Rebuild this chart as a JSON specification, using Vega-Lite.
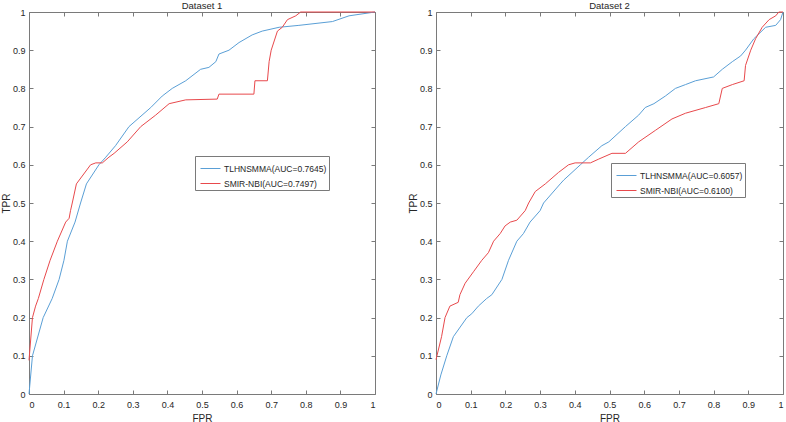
{
  "$schema": "https://vega.github.io/schema/vega-lite/v6.json",
  "background": "white",
  "padding": {"left": 0, "top": 0, "right": 0, "bottom": 0},
  "config": {
    "font": "Liberation Sans",
    "view": {"stroke": "#7a7a7a", "strokeWidth": 1},
    "axis": {
      "grid": false,
      "domain": false,
      "tickColor": "#7a7a7a",
      "tickSize": -4,
      "labelFontSize": 9,
      "labelColor": "#262626",
      "titleFontSize": 10,
      "titleFontWeight": "normal",
      "titleColor": "#262626",
      "labelPadding": 8
    },
    "legend": {"titlePadding": 0},
    "title": {"fontSize": 9.5, "fontWeight": "normal", "color": "#262626", "offset": -2}
  },
  "datasets": {
    "d1": [
      {"method": "TLHNSMMA(AUC=0.7645)", "i": 0, "fpr": 0, "tpr": 0},
      {"method": "TLHNSMMA(AUC=0.7645)", "i": 1, "fpr": 0.01, "tpr": 0.1},
      {"method": "TLHNSMMA(AUC=0.7645)", "i": 2, "fpr": 0.041, "tpr": 0.2},
      {"method": "TLHNSMMA(AUC=0.7645)", "i": 3, "fpr": 0.067, "tpr": 0.25},
      {"method": "TLHNSMMA(AUC=0.7645)", "i": 4, "fpr": 0.087, "tpr": 0.3},
      {"method": "TLHNSMMA(AUC=0.7645)", "i": 5, "fpr": 0.101, "tpr": 0.35},
      {"method": "TLHNSMMA(AUC=0.7645)", "i": 6, "fpr": 0.111, "tpr": 0.4},
      {"method": "TLHNSMMA(AUC=0.7645)", "i": 7, "fpr": 0.133, "tpr": 0.45},
      {"method": "TLHNSMMA(AUC=0.7645)", "i": 8, "fpr": 0.149, "tpr": 0.5},
      {"method": "TLHNSMMA(AUC=0.7645)", "i": 9, "fpr": 0.166, "tpr": 0.55},
      {"method": "TLHNSMMA(AUC=0.7645)", "i": 10, "fpr": 0.202, "tpr": 0.6},
      {"method": "TLHNSMMA(AUC=0.7645)", "i": 11, "fpr": 0.222, "tpr": 0.62},
      {"method": "TLHNSMMA(AUC=0.7645)", "i": 12, "fpr": 0.25, "tpr": 0.65},
      {"method": "TLHNSMMA(AUC=0.7645)", "i": 13, "fpr": 0.289, "tpr": 0.7},
      {"method": "TLHNSMMA(AUC=0.7645)", "i": 14, "fpr": 0.352, "tpr": 0.75},
      {"method": "TLHNSMMA(AUC=0.7645)", "i": 15, "fpr": 0.385, "tpr": 0.78},
      {"method": "TLHNSMMA(AUC=0.7645)", "i": 16, "fpr": 0.414, "tpr": 0.8},
      {"method": "TLHNSMMA(AUC=0.7645)", "i": 17, "fpr": 0.453, "tpr": 0.82},
      {"method": "TLHNSMMA(AUC=0.7645)", "i": 18, "fpr": 0.496, "tpr": 0.85},
      {"method": "TLHNSMMA(AUC=0.7645)", "i": 19, "fpr": 0.52, "tpr": 0.855},
      {"method": "TLHNSMMA(AUC=0.7645)", "i": 20, "fpr": 0.54, "tpr": 0.87},
      {"method": "TLHNSMMA(AUC=0.7645)", "i": 21, "fpr": 0.549, "tpr": 0.89},
      {"method": "TLHNSMMA(AUC=0.7645)", "i": 22, "fpr": 0.578, "tpr": 0.9},
      {"method": "TLHNSMMA(AUC=0.7645)", "i": 23, "fpr": 0.607, "tpr": 0.92},
      {"method": "TLHNSMMA(AUC=0.7645)", "i": 24, "fpr": 0.645, "tpr": 0.94},
      {"method": "TLHNSMMA(AUC=0.7645)", "i": 25, "fpr": 0.674, "tpr": 0.95},
      {"method": "TLHNSMMA(AUC=0.7645)", "i": 26, "fpr": 0.723, "tpr": 0.96},
      {"method": "TLHNSMMA(AUC=0.7645)", "i": 27, "fpr": 0.78, "tpr": 0.965},
      {"method": "TLHNSMMA(AUC=0.7645)", "i": 28, "fpr": 0.877, "tpr": 0.975},
      {"method": "TLHNSMMA(AUC=0.7645)", "i": 29, "fpr": 0.925, "tpr": 0.99},
      {"method": "TLHNSMMA(AUC=0.7645)", "i": 30, "fpr": 1, "tpr": 1},
      {"method": "SMIR-NBI(AUC=0.7497)", "i": 1, "fpr": 0, "tpr": 0.088},
      {"method": "SMIR-NBI(AUC=0.7497)", "i": 2, "fpr": 0.01, "tpr": 0.2},
      {"method": "SMIR-NBI(AUC=0.7497)", "i": 3, "fpr": 0.019, "tpr": 0.23},
      {"method": "SMIR-NBI(AUC=0.7497)", "i": 4, "fpr": 0.027, "tpr": 0.25},
      {"method": "SMIR-NBI(AUC=0.7497)", "i": 5, "fpr": 0.043, "tpr": 0.3},
      {"method": "SMIR-NBI(AUC=0.7497)", "i": 6, "fpr": 0.061, "tpr": 0.35},
      {"method": "SMIR-NBI(AUC=0.7497)", "i": 7, "fpr": 0.082, "tpr": 0.4},
      {"method": "SMIR-NBI(AUC=0.7497)", "i": 8, "fpr": 0.106, "tpr": 0.45},
      {"method": "SMIR-NBI(AUC=0.7497)", "i": 9, "fpr": 0.116, "tpr": 0.46},
      {"method": "SMIR-NBI(AUC=0.7497)", "i": 10, "fpr": 0.12, "tpr": 0.48},
      {"method": "SMIR-NBI(AUC=0.7497)", "i": 11, "fpr": 0.125, "tpr": 0.5},
      {"method": "SMIR-NBI(AUC=0.7497)", "i": 12, "fpr": 0.137, "tpr": 0.55},
      {"method": "SMIR-NBI(AUC=0.7497)", "i": 13, "fpr": 0.178, "tpr": 0.6},
      {"method": "SMIR-NBI(AUC=0.7497)", "i": 14, "fpr": 0.193, "tpr": 0.605},
      {"method": "SMIR-NBI(AUC=0.7497)", "i": 15, "fpr": 0.212, "tpr": 0.605},
      {"method": "SMIR-NBI(AUC=0.7497)", "i": 16, "fpr": 0.231, "tpr": 0.62},
      {"method": "SMIR-NBI(AUC=0.7497)", "i": 17, "fpr": 0.246, "tpr": 0.63},
      {"method": "SMIR-NBI(AUC=0.7497)", "i": 18, "fpr": 0.284, "tpr": 0.66},
      {"method": "SMIR-NBI(AUC=0.7497)", "i": 19, "fpr": 0.323, "tpr": 0.7},
      {"method": "SMIR-NBI(AUC=0.7497)", "i": 20, "fpr": 0.366, "tpr": 0.73},
      {"method": "SMIR-NBI(AUC=0.7497)", "i": 21, "fpr": 0.405, "tpr": 0.76},
      {"method": "SMIR-NBI(AUC=0.7497)", "i": 22, "fpr": 0.453, "tpr": 0.77},
      {"method": "SMIR-NBI(AUC=0.7497)", "i": 23, "fpr": 0.544, "tpr": 0.772},
      {"method": "SMIR-NBI(AUC=0.7497)", "i": 24, "fpr": 0.549, "tpr": 0.785},
      {"method": "SMIR-NBI(AUC=0.7497)", "i": 25, "fpr": 0.65, "tpr": 0.785},
      {"method": "SMIR-NBI(AUC=0.7497)", "i": 26, "fpr": 0.653, "tpr": 0.82},
      {"method": "SMIR-NBI(AUC=0.7497)", "i": 27, "fpr": 0.689, "tpr": 0.82},
      {"method": "SMIR-NBI(AUC=0.7497)", "i": 28, "fpr": 0.694, "tpr": 0.87},
      {"method": "SMIR-NBI(AUC=0.7497)", "i": 29, "fpr": 0.7, "tpr": 0.9},
      {"method": "SMIR-NBI(AUC=0.7497)", "i": 30, "fpr": 0.718, "tpr": 0.95},
      {"method": "SMIR-NBI(AUC=0.7497)", "i": 31, "fpr": 0.732, "tpr": 0.96},
      {"method": "SMIR-NBI(AUC=0.7497)", "i": 32, "fpr": 0.747, "tpr": 0.98},
      {"method": "SMIR-NBI(AUC=0.7497)", "i": 33, "fpr": 0.771, "tpr": 0.99},
      {"method": "SMIR-NBI(AUC=0.7497)", "i": 34, "fpr": 0.785, "tpr": 1},
      {"method": "SMIR-NBI(AUC=0.7497)", "i": 35, "fpr": 1, "tpr": 1}
    ],
    "d2": [
      {"method": "TLHNSMMA(AUC=0.6057)", "i": 0, "fpr": 0, "tpr": 0},
      {"method": "TLHNSMMA(AUC=0.6057)", "i": 1, "fpr": 0.014, "tpr": 0.05},
      {"method": "TLHNSMMA(AUC=0.6057)", "i": 2, "fpr": 0.031, "tpr": 0.1},
      {"method": "TLHNSMMA(AUC=0.6057)", "i": 3, "fpr": 0.05, "tpr": 0.15},
      {"method": "TLHNSMMA(AUC=0.6057)", "i": 4, "fpr": 0.089, "tpr": 0.2},
      {"method": "TLHNSMMA(AUC=0.6057)", "i": 5, "fpr": 0.103, "tpr": 0.21},
      {"method": "TLHNSMMA(AUC=0.6057)", "i": 6, "fpr": 0.122, "tpr": 0.23},
      {"method": "TLHNSMMA(AUC=0.6057)", "i": 7, "fpr": 0.146, "tpr": 0.25},
      {"method": "TLHNSMMA(AUC=0.6057)", "i": 8, "fpr": 0.161, "tpr": 0.26},
      {"method": "TLHNSMMA(AUC=0.6057)", "i": 9, "fpr": 0.19, "tpr": 0.3},
      {"method": "TLHNSMMA(AUC=0.6057)", "i": 10, "fpr": 0.209, "tpr": 0.35},
      {"method": "TLHNSMMA(AUC=0.6057)", "i": 11, "fpr": 0.233, "tpr": 0.4},
      {"method": "TLHNSMMA(AUC=0.6057)", "i": 12, "fpr": 0.252, "tpr": 0.42},
      {"method": "TLHNSMMA(AUC=0.6057)", "i": 13, "fpr": 0.271, "tpr": 0.45},
      {"method": "TLHNSMMA(AUC=0.6057)", "i": 14, "fpr": 0.3, "tpr": 0.48},
      {"method": "TLHNSMMA(AUC=0.6057)", "i": 15, "fpr": 0.31, "tpr": 0.5},
      {"method": "TLHNSMMA(AUC=0.6057)", "i": 16, "fpr": 0.358, "tpr": 0.55},
      {"method": "TLHNSMMA(AUC=0.6057)", "i": 17, "fpr": 0.368, "tpr": 0.56},
      {"method": "TLHNSMMA(AUC=0.6057)", "i": 18, "fpr": 0.416, "tpr": 0.6},
      {"method": "TLHNSMMA(AUC=0.6057)", "i": 19, "fpr": 0.44, "tpr": 0.62},
      {"method": "TLHNSMMA(AUC=0.6057)", "i": 20, "fpr": 0.478, "tpr": 0.65},
      {"method": "TLHNSMMA(AUC=0.6057)", "i": 21, "fpr": 0.498, "tpr": 0.66},
      {"method": "TLHNSMMA(AUC=0.6057)", "i": 22, "fpr": 0.546, "tpr": 0.7},
      {"method": "TLHNSMMA(AUC=0.6057)", "i": 23, "fpr": 0.584, "tpr": 0.73},
      {"method": "TLHNSMMA(AUC=0.6057)", "i": 24, "fpr": 0.603, "tpr": 0.75},
      {"method": "TLHNSMMA(AUC=0.6057)", "i": 25, "fpr": 0.628, "tpr": 0.76},
      {"method": "TLHNSMMA(AUC=0.6057)", "i": 26, "fpr": 0.661, "tpr": 0.78},
      {"method": "TLHNSMMA(AUC=0.6057)", "i": 27, "fpr": 0.69, "tpr": 0.8},
      {"method": "TLHNSMMA(AUC=0.6057)", "i": 28, "fpr": 0.719, "tpr": 0.81},
      {"method": "TLHNSMMA(AUC=0.6057)", "i": 29, "fpr": 0.748, "tpr": 0.82},
      {"method": "TLHNSMMA(AUC=0.6057)", "i": 30, "fpr": 0.8, "tpr": 0.83},
      {"method": "TLHNSMMA(AUC=0.6057)", "i": 31, "fpr": 0.825, "tpr": 0.85},
      {"method": "TLHNSMMA(AUC=0.6057)", "i": 32, "fpr": 0.854, "tpr": 0.87},
      {"method": "TLHNSMMA(AUC=0.6057)", "i": 33, "fpr": 0.878, "tpr": 0.885},
      {"method": "TLHNSMMA(AUC=0.6057)", "i": 34, "fpr": 0.892, "tpr": 0.9},
      {"method": "TLHNSMMA(AUC=0.6057)", "i": 35, "fpr": 0.916, "tpr": 0.93},
      {"method": "TLHNSMMA(AUC=0.6057)", "i": 36, "fpr": 0.95, "tpr": 0.96},
      {"method": "TLHNSMMA(AUC=0.6057)", "i": 37, "fpr": 0.979, "tpr": 0.965},
      {"method": "TLHNSMMA(AUC=0.6057)", "i": 38, "fpr": 0.993, "tpr": 0.98},
      {"method": "TLHNSMMA(AUC=0.6057)", "i": 39, "fpr": 1, "tpr": 1},
      {"method": "SMIR-NBI(AUC=0.6100)", "i": 1, "fpr": 0, "tpr": 0.09},
      {"method": "SMIR-NBI(AUC=0.6100)", "i": 2, "fpr": 0.016, "tpr": 0.15},
      {"method": "SMIR-NBI(AUC=0.6100)", "i": 3, "fpr": 0.026, "tpr": 0.2},
      {"method": "SMIR-NBI(AUC=0.6100)", "i": 4, "fpr": 0.04, "tpr": 0.23},
      {"method": "SMIR-NBI(AUC=0.6100)", "i": 5, "fpr": 0.064, "tpr": 0.24},
      {"method": "SMIR-NBI(AUC=0.6100)", "i": 6, "fpr": 0.069, "tpr": 0.26},
      {"method": "SMIR-NBI(AUC=0.6100)", "i": 7, "fpr": 0.084, "tpr": 0.29},
      {"method": "SMIR-NBI(AUC=0.6100)", "i": 8, "fpr": 0.108, "tpr": 0.32},
      {"method": "SMIR-NBI(AUC=0.6100)", "i": 9, "fpr": 0.132, "tpr": 0.35},
      {"method": "SMIR-NBI(AUC=0.6100)", "i": 10, "fpr": 0.151, "tpr": 0.37},
      {"method": "SMIR-NBI(AUC=0.6100)", "i": 11, "fpr": 0.166, "tpr": 0.4},
      {"method": "SMIR-NBI(AUC=0.6100)", "i": 12, "fpr": 0.185, "tpr": 0.42},
      {"method": "SMIR-NBI(AUC=0.6100)", "i": 13, "fpr": 0.199, "tpr": 0.44},
      {"method": "SMIR-NBI(AUC=0.6100)", "i": 14, "fpr": 0.214, "tpr": 0.45},
      {"method": "SMIR-NBI(AUC=0.6100)", "i": 15, "fpr": 0.233, "tpr": 0.455},
      {"method": "SMIR-NBI(AUC=0.6100)", "i": 16, "fpr": 0.257, "tpr": 0.48},
      {"method": "SMIR-NBI(AUC=0.6100)", "i": 17, "fpr": 0.267, "tpr": 0.5},
      {"method": "SMIR-NBI(AUC=0.6100)", "i": 18, "fpr": 0.286, "tpr": 0.53},
      {"method": "SMIR-NBI(AUC=0.6100)", "i": 19, "fpr": 0.315, "tpr": 0.55},
      {"method": "SMIR-NBI(AUC=0.6100)", "i": 20, "fpr": 0.353, "tpr": 0.58},
      {"method": "SMIR-NBI(AUC=0.6100)", "i": 21, "fpr": 0.382, "tpr": 0.6},
      {"method": "SMIR-NBI(AUC=0.6100)", "i": 22, "fpr": 0.401, "tpr": 0.605},
      {"method": "SMIR-NBI(AUC=0.6100)", "i": 23, "fpr": 0.445, "tpr": 0.605},
      {"method": "SMIR-NBI(AUC=0.6100)", "i": 24, "fpr": 0.469, "tpr": 0.615},
      {"method": "SMIR-NBI(AUC=0.6100)", "i": 25, "fpr": 0.507, "tpr": 0.63},
      {"method": "SMIR-NBI(AUC=0.6100)", "i": 26, "fpr": 0.546, "tpr": 0.63},
      {"method": "SMIR-NBI(AUC=0.6100)", "i": 27, "fpr": 0.584, "tpr": 0.66},
      {"method": "SMIR-NBI(AUC=0.6100)", "i": 28, "fpr": 0.632, "tpr": 0.69},
      {"method": "SMIR-NBI(AUC=0.6100)", "i": 29, "fpr": 0.68, "tpr": 0.72},
      {"method": "SMIR-NBI(AUC=0.6100)", "i": 30, "fpr": 0.719, "tpr": 0.735},
      {"method": "SMIR-NBI(AUC=0.6100)", "i": 31, "fpr": 0.777, "tpr": 0.75},
      {"method": "SMIR-NBI(AUC=0.6100)", "i": 32, "fpr": 0.815, "tpr": 0.76},
      {"method": "SMIR-NBI(AUC=0.6100)", "i": 33, "fpr": 0.825, "tpr": 0.8},
      {"method": "SMIR-NBI(AUC=0.6100)", "i": 34, "fpr": 0.854, "tpr": 0.81},
      {"method": "SMIR-NBI(AUC=0.6100)", "i": 35, "fpr": 0.888, "tpr": 0.82},
      {"method": "SMIR-NBI(AUC=0.6100)", "i": 36, "fpr": 0.892, "tpr": 0.86},
      {"method": "SMIR-NBI(AUC=0.6100)", "i": 37, "fpr": 0.907, "tpr": 0.9},
      {"method": "SMIR-NBI(AUC=0.6100)", "i": 38, "fpr": 0.921, "tpr": 0.93},
      {"method": "SMIR-NBI(AUC=0.6100)", "i": 39, "fpr": 0.94, "tpr": 0.96},
      {"method": "SMIR-NBI(AUC=0.6100)", "i": 40, "fpr": 0.96, "tpr": 0.98},
      {"method": "SMIR-NBI(AUC=0.6100)", "i": 41, "fpr": 0.979, "tpr": 0.99},
      {"method": "SMIR-NBI(AUC=0.6100)", "i": 42, "fpr": 0.988, "tpr": 1},
      {"method": "SMIR-NBI(AUC=0.6100)", "i": 43, "fpr": 1, "tpr": 1}
    ]
  },
  "spacing": 29,
  "resolve": {"scale": {"color": "independent"}, "legend": {"color": "independent"}},
  "hconcat": [
    {
      "title": "Dataset 1",
      "data": {"name": "d1"},
      "width": 346,
      "height": 382,
      "resolve": {"axis": {"x": "independent", "y": "independent"}},
      "layer": [
        {
          "mark": {"type": "line", "strokeWidth": 1},
          "encoding": {
            "x": {"field": "fpr", "type": "quantitative", "title": "FPR", "scale": {"domain": [0, 1]}, "axis": {"values": [0, 0.1, 0.2, 0.3, 0.4, 0.5, 0.6, 0.7, 0.8, 0.9, 1], "format": "~g", "labelPadding": 10, "titlePadding": 4}},
            "y": {"field": "tpr", "type": "quantitative", "title": "TPR", "scale": {"domain": [0, 1]}, "axis": {"values": [0, 0.1, 0.2, 0.3, 0.4, 0.5, 0.6, 0.7, 0.8, 0.9, 1], "format": "~g", "titlePadding": 1}},
            "color": {
              "field": "method", "type": "nominal",
              "scale": {"domain": ["TLHNSMMA(AUC=0.7645)", "SMIR-NBI(AUC=0.7497)"], "range": ["#5a9fd6", "#e8494c"]},
              "legend": {"title": null, "orient": "none", "legendX": 166, "legendY": 144, "symbolType": "stroke", "symbolSize": 400, "symbolStrokeWidth": 1, "symbolOffset": 3, "labelFontSize": 8.5, "labelColor": "#262626", "labelOffset": 3, "strokeColor": "#7a7a7a", "fillColor": "white", "padding": 2, "rowPadding": 0}
            },
            "order": {"field": "i"}
          }
        },
        {
          "mark": {"type": "line", "opacity": 0},
          "encoding": {
            "x": {"field": "fpr", "type": "quantitative", "scale": {"domain": [0, 1]}, "axis": {"orient": "top", "labels": false, "title": null, "values": [0, 0.1, 0.2, 0.3, 0.4, 0.5, 0.6, 0.7, 0.8, 0.9, 1]}},
            "y": {"field": "tpr", "type": "quantitative", "scale": {"domain": [0, 1]}, "axis": {"orient": "right", "labels": false, "title": null, "values": [0, 0.1, 0.2, 0.3, 0.4, 0.5, 0.6, 0.7, 0.8, 0.9, 1]}}
          }
        }
      ]
    },
    {
      "title": "Dataset 2",
      "data": {"name": "d2"},
      "width": 347,
      "height": 382,
      "resolve": {"axis": {"x": "independent", "y": "independent"}},
      "layer": [
        {
          "mark": {"type": "line", "strokeWidth": 1},
          "encoding": {
            "x": {"field": "fpr", "type": "quantitative", "title": "FPR", "scale": {"domain": [0, 1]}, "axis": {"values": [0, 0.1, 0.2, 0.3, 0.4, 0.5, 0.6, 0.7, 0.8, 0.9, 1], "format": "~g", "labelPadding": 10, "titlePadding": 4}},
            "y": {"field": "tpr", "type": "quantitative", "title": "TPR", "scale": {"domain": [0, 1]}, "axis": {"values": [0, 0.1, 0.2, 0.3, 0.4, 0.5, 0.6, 0.7, 0.8, 0.9, 1], "format": "~g", "titlePadding": 1}},
            "color": {
              "field": "method", "type": "nominal",
              "scale": {"domain": ["TLHNSMMA(AUC=0.6057)", "SMIR-NBI(AUC=0.6100)"], "range": ["#5a9fd6", "#e8494c"]},
              "legend": {"title": null, "orient": "none", "legendX": 175, "legendY": 151, "symbolType": "stroke", "symbolSize": 400, "symbolStrokeWidth": 1, "symbolOffset": 3, "labelFontSize": 8.5, "labelColor": "#262626", "labelOffset": 3, "strokeColor": "#7a7a7a", "fillColor": "white", "padding": 2, "rowPadding": 0}
            },
            "order": {"field": "i"}
          }
        },
        {
          "mark": {"type": "line", "opacity": 0},
          "encoding": {
            "x": {"field": "fpr", "type": "quantitative", "scale": {"domain": [0, 1]}, "axis": {"orient": "top", "labels": false, "title": null, "values": [0, 0.1, 0.2, 0.3, 0.4, 0.5, 0.6, 0.7, 0.8, 0.9, 1]}},
            "y": {"field": "tpr", "type": "quantitative", "scale": {"domain": [0, 1]}, "axis": {"orient": "right", "labels": false, "title": null, "values": [0, 0.1, 0.2, 0.3, 0.4, 0.5, 0.6, 0.7, 0.8, 0.9, 1]}}
          }
        }
      ]
    }
  ]
}
